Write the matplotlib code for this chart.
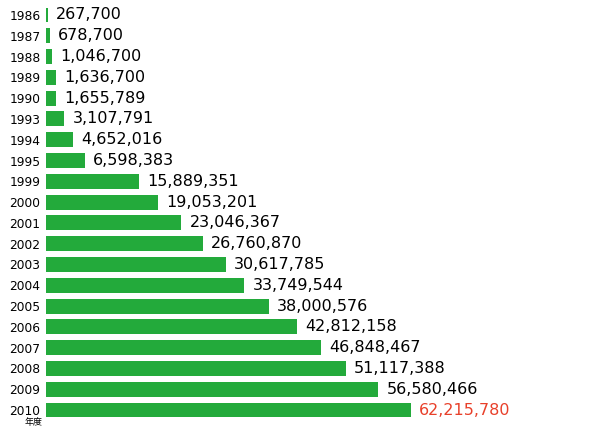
import matplotlib.pyplot as plt

years = ["1986", "1987", "1988", "1989", "1990", "1993", "1994", "1995", "1999", "2000",
         "2001", "2002", "2003", "2004", "2005", "2006", "2007", "2008", "2009", "2010"]
values = [267700, 678700, 1046700, 1636700, 1655789, 3107791, 4652016, 6598383, 15889351, 19053201,
          23046367, 26760870, 30617785, 33749544, 38000576, 42812158, 46848467, 51117388, 56580466, 62215780]

GREEN = "#23aa3b"
RED = "#e8402a"

fig = plt.figure(figsize=(6.0, 4.3), dpi=100)
ax = fig.add_axes([46 / 600, 1 - 420.4 / 430, 1 - 46 / 600, (420.4 - 4.6) / 430])

ypos = list(range(len(years)))
ax.barh(ypos, values, height=0.72, color=GREEN, edgecolor="none")
ax.set_xlim(0, (600 - 46) / 365 * 62215780)
ax.set_ylim(len(years) - 0.5, -0.5)

# value labels, last one highlighted in red
for i, v in enumerate(values):
    color = RED if i == len(values) - 1 else "black"
    ax.annotate(f"{v:,}", (v, i), xytext=(6, 0), textcoords="offset points",
                ha="left", va="center", fontsize=11.5, color=color, fontstretch="expanded")

ax.set_yticks(ypos)
ax.set_yticklabels(years, fontsize=8.8)
ax.tick_params(axis="y", length=0, pad=4)
ax.set_xticks([])
for s in ax.spines.values():
    s.set_visible(False)

fig.text(43 / 600, 1 - 422 / 430, "年度", ha="right", va="center", fontsize=6.5,
         family=["Noto Sans CJK JP", "DejaVu Sans"])

fig.savefig("out.png", dpi=100)
